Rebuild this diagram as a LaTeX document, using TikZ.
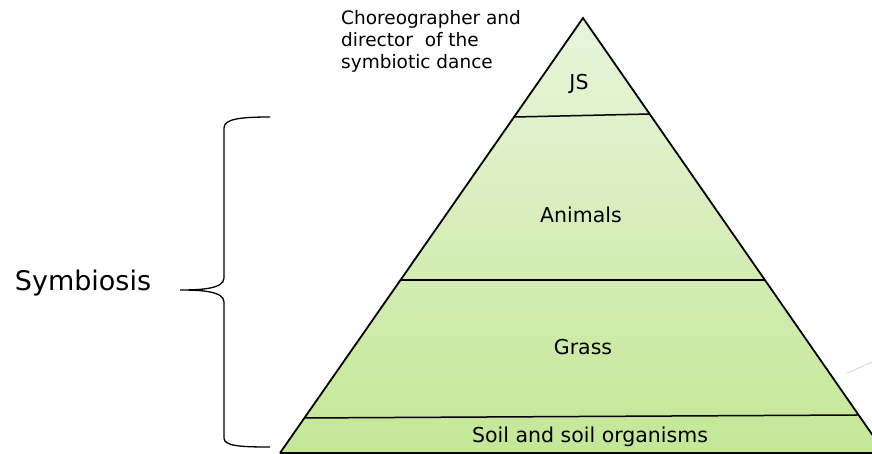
\documentclass[tikz,border=0pt]{standalone}
\usepackage{fontspec}
\setmainfont{DejaVu Sans}
\usetikzlibrary{calc,positioning}
\definecolor{layerTop}{HTML}{E8F5DC}
\definecolor{layerBot}{HTML}{C4E796}

\begin{document}
\begin{tikzpicture}[x=1pt,y=-1pt,
  lbl/.style={font=\fontsize{20.5}{24}\selectfont,inner sep=0pt},
  sep/.style={draw=black,line width=1.5pt}]
\useasboundingbox (0,0) rectangle (872,453);
\clip (0,0) rectangle (872,453);
\coordinate (apex) at (583,18);
\coordinate (bl) at (280,453);
\coordinate (br) at (885,453);
% pyramid body
\begin{scope}
  \clip (apex) -- (bl) -- (br) -- cycle;
  \shade[top color=layerTop,bottom color=layerBot] (270,18) rectangle (890,453);
\end{scope}
\draw[line width=1.8pt,line join=miter] (bl) -- (apex) -- (br);
\draw[line width=1.8pt] (bl) -- (br);
% layer borders
\draw[sep] ($(apex)!0.2276!(bl)$) -- ($(apex)!0.2207!(br)$);
\draw[sep] ($(apex)!0.602!(bl)$) -- ($(apex)!0.602!(br)$);
\draw[sep] ($(apex)!0.9195!(bl)$) -- ($(apex)!0.9126!(br)$);
% faint stray line
\draw[black!15,line width=1pt] (847,373) -- (872,362);
% labels
\node[lbl] (js) at (579,84) {JS};
\node[lbl] (animals) at (581,215) {Animals};
\node[lbl] (grass) at (583,347) {Grass};
\node[lbl] (soil) at (590,437) {Soil and soil organisms};
\node[lbl,font=\fontsize{18.5}{22}\selectfont,align=left,anchor=north west] (dance) at (341,10) {Choreographer and\\director\ \ of the\\symbiotic dance};
\node[inner sep=0pt,font=\fontsize{27}{30}\selectfont] (symb) at (83,283) {Symbiosis};
% brace
\draw[line width=1.3pt] (270,117) .. controls (240,117) and (224,119) .. (224,128)
  -- (224,278) .. controls (224,289) and (200,290) .. (180,290)
  (180,290) .. controls (200,290) and (224,291) .. (224,302)
  -- (224,438) .. controls (224,446) and (240,447) .. (270,447);
\end{tikzpicture}
\end{document}
